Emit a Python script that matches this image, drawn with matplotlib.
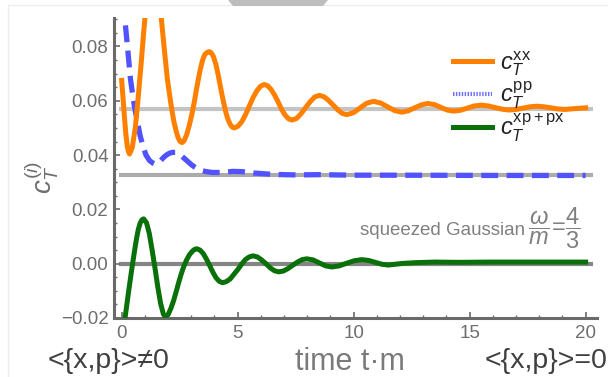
import matplotlib
matplotlib.use("Agg")
import matplotlib.pyplot as plt
from matplotlib.lines import Line2D
from matplotlib.patches import Polygon, Rectangle
from matplotlib.ticker import MultipleLocator, FuncFormatter

plt.rcParams['font.family'] = ['Liberation Sans', 'DejaVu Sans']
plt.rcParams['mathtext.fontset'] = 'custom'
plt.rcParams['mathtext.rm'] = 'Liberation Sans'
plt.rcParams['mathtext.it'] = 'Liberation Sans:italic'

# c_T^xx (orange)
t_xx = [0.00, 0.06, 0.12, 0.18, 0.24, 0.29, 0.34, 0.46, 0.59, 0.71, 0.84, 0.96,
        1.08, 1.21, 1.33, 1.45, 1.58, 1.71, 1.85, 1.97, 2.12, 2.19, 2.26, 2.35,
        2.43, 2.51, 2.60, 2.69, 2.80, 2.91, 3.03, 3.13, 3.22, 3.31, 3.40, 3.49,
        3.58, 3.68, 3.77, 3.86, 3.96, 4.06, 4.15, 4.24, 4.33, 4.42, 4.50, 4.59,
        4.68, 4.77, 4.85, 5.01, 5.18, 5.34, 5.50, 5.66, 5.83, 5.99, 6.15, 6.30,
        6.45, 6.60, 6.75, 6.89, 7.04, 7.19, 7.34, 7.54, 7.73, 7.93, 8.13, 8.32,
        8.52, 8.72, 8.91, 9.11, 9.31, 9.50, 9.70, 9.99, 10.28, 10.56, 10.85,
        11.16, 11.46, 11.77, 12.07, 12.35, 12.63, 12.92, 13.20, 13.48, 13.75,
        14.03, 14.30, 14.60, 14.90, 15.20, 15.50, 15.80, 16.10, 16.40, 16.70,
        17.00, 17.30, 17.60, 17.90, 18.20, 18.50, 18.80, 19.10, 19.50, 20.00]
c_xx = [0.0675, 0.0610, 0.0540, 0.0478, 0.0435, 0.0413, 0.0404, 0.0429, 0.0502,
        0.0610, 0.0737, 0.0864, 0.0972, 0.1045, 0.1070, 0.1045, 0.0980, 0.0903,
        0.0780, 0.0680, 0.0590, 0.0553, 0.0520, 0.0488, 0.0465, 0.0451, 0.0446,
        0.0452, 0.0475, 0.0508, 0.0551, 0.0595, 0.0640, 0.0682, 0.0720, 0.0750,
        0.0770, 0.0778, 0.0781, 0.0777, 0.0762, 0.0735, 0.0700, 0.0660, 0.0620,
        0.0584, 0.0555, 0.0530, 0.0513, 0.0503, 0.0500, 0.0506, 0.0523, 0.0549,
        0.0580, 0.0611, 0.0637, 0.0654, 0.0660, 0.0655, 0.0641, 0.0620, 0.0595,
        0.0569, 0.0548, 0.0534, 0.0529, 0.0535, 0.0552, 0.0575, 0.0597, 0.0614,
        0.0620, 0.0615, 0.0602, 0.0585, 0.0567, 0.0554, 0.0549, 0.0556, 0.0574,
        0.0591, 0.0598, 0.0592, 0.0578, 0.0564, 0.0558, 0.0563, 0.0574, 0.0585,
        0.0590, 0.0586, 0.0576, 0.0566, 0.0562, 0.0565, 0.0573, 0.0581, 0.0584,
        0.0581, 0.0575, 0.0569, 0.0566, 0.0568, 0.0573, 0.0578, 0.0580, 0.0578,
        0.0574, 0.0570, 0.0568, 0.0571, 0.0574]

# c_T^pp (blue dashed)
t_pp = [0.00, 0.08, 0.15, 0.26, 0.38, 0.47, 0.55, 0.67, 0.80, 0.95, 1.05, 1.20,
        1.32, 1.45, 1.55, 1.65, 1.77, 1.88, 2.00, 2.10, 2.20, 2.31, 2.42, 2.52,
        2.63, 2.74, 2.87, 3.00, 3.15, 3.31, 3.45, 3.60, 3.90, 4.30, 4.80, 5.20,
        5.70, 6.50, 7.50, 8.50, 10.0, 12.0, 16.0, 20.0]
c_pp = [0.0970, 0.0930, 0.0890, 0.0790, 0.0680, 0.0625, 0.0580, 0.0527, 0.0470,
        0.0425, 0.0400, 0.0380, 0.0372, 0.0367, 0.0369, 0.0377, 0.0388, 0.0397,
        0.0404, 0.0408, 0.0410, 0.0410, 0.0407, 0.0401, 0.0393, 0.0385, 0.0375,
        0.0365, 0.0356, 0.0348, 0.0343, 0.0340, 0.0336, 0.0336, 0.0340, 0.0339,
        0.0334, 0.0329, 0.0327, 0.0328, 0.0326, 0.0326, 0.0325, 0.0325]

# c_T^xp+px (green)
t_xp = [0.00, 0.08, 0.16, 0.24, 0.32, 0.40, 0.48, 0.56, 0.64, 0.72, 0.80, 0.88,
        0.95, 1.07, 1.19, 1.31, 1.44, 1.56, 1.68, 1.80, 1.88, 2.00, 2.12, 2.24,
        2.35, 2.46, 2.57, 2.67, 2.80, 2.93, 3.06, 3.15, 3.24, 3.38, 3.52, 3.66,
        3.80, 3.93, 4.07, 4.21, 4.35, 4.51, 4.68, 4.84, 5.01, 5.17, 5.33, 5.50,
        5.66, 5.85, 6.03, 6.22, 6.40, 6.59, 6.77, 6.97, 7.17, 7.37, 7.58, 7.78,
        7.98, 8.25, 8.52, 8.79, 9.06, 9.38, 9.71, 10.03, 10.35, 10.64, 10.93,
        11.21, 11.50, 12.10, 12.70, 13.50, 14.50, 16.0, 18.0, 20.0]
c_xp = [-0.0290, -0.0240, -0.0191, -0.0140, -0.0090, -0.0042, 0.0005, 0.0050,
        0.0092, 0.0127, 0.0150, 0.0162, 0.0165, 0.0151, 0.0112, 0.0052, -0.0018,
        -0.0087, -0.0147, -0.0186, -0.0195, -0.0188, -0.0165, -0.0136, -0.0103,
        -0.0069, -0.0037, -0.0012, 0.0014, 0.0034, 0.0047, 0.0053, 0.0055, 0.0050,
        0.0037, 0.0016, -0.0008, -0.0031, -0.0052, -0.0065, -0.0070, -0.0066,
        -0.0056, -0.0039, -0.0021, -0.0002, 0.0015, 0.0025, 0.0029, 0.0025,
        0.0014, 0.0000, -0.0015, -0.0026, -0.0030, -0.0027, -0.0018, -0.0006,
        0.0006, 0.0015, 0.0018, 0.0014, 0.0003, -0.0008, -0.0012, -0.0008, 0.0002,
        0.0011, 0.0015, 0.0012, 0.0005, -0.0002, -0.0005, 0.0001, 0.0004, 0.0006,
        0.0005, 0.0006, 0.0006, 0.0006]

# late-time (thermal) values
eq_values = [0.0571, 0.0326, 0.0]
eq_colors = ['#c4c4c4', '#ababab', '#858585']

ORANGE = '#ff8000'
BLUE = '#5252ff'
GREEN = '#0a700a'
AXGRAY = '#6a6a6a'


def minus_fmt(v, pos):
    return ('%.2f' % v).replace('-', '\u2212')


fig = plt.figure(figsize=(6.08, 3.77), dpi=100)
ax = fig.add_axes([0.1875, 0.1565, 0.7944, 0.7958])

for v, c in zip(eq_values, eq_colors):
    ax.hlines(v, -0.1, 20.3, color=c, lw=3.0, zorder=1)

ax.plot(t_xx, c_xx, color=ORANGE, lw=3.6, solid_joinstyle='round', zorder=3)
ax.plot(t_pp, c_pp, color=BLUE, lw=3.8, dashes=(3.2, 1.6), dash_capstyle='butt', zorder=2)
ax.plot(t_xp, c_xp, color=GREEN, lw=3.6, solid_joinstyle='round', zorder=3)

ax.set_xlim(-0.33, 20.49)
ax.set_ylim(-0.0200, 0.0905)
ax.xaxis.set_major_locator(MultipleLocator(5))
ax.xaxis.set_minor_locator(MultipleLocator(1))
ax.yaxis.set_major_locator(MultipleLocator(0.02))
ax.yaxis.set_minor_locator(MultipleLocator(0.005))
ax.yaxis.set_major_formatter(FuncFormatter(minus_fmt))

for side in ['top', 'right']:
    ax.spines[side].set_visible(False)
for side in ['left', 'bottom']:
    ax.spines[side].set_color(AXGRAY)
    ax.spines[side].set_linewidth(2.2)
ax.tick_params(which='both', direction='in', color=AXGRAY, labelcolor='#6e6e6e',
               labelsize=13.5)
ax.tick_params(which='major', length=4, width=1.2)
ax.tick_params(which='minor', length=2, width=1.0)
ax.tick_params(axis='y', pad=4)
ax.tick_params(axis='x', pad=5)

ax.set_ylabel(r'$c_T^{(i)}$', fontsize=20, color='#6e6e6e')
ax.yaxis.set_label_coords(-0.11, 0.47)

handles = [
    Line2D([], [], color=ORANGE, lw=3.6),
    Line2D([], [], color='#7070ff', lw=3.0, dashes=(0.35, 0.35)),
    Line2D([], [], color=GREEN, lw=3.6),
]
labels = [r'$c_T^{\mathrm{xx}}$', r'$c_T^{\mathrm{pp}}$', r'$c_T^{\mathrm{xp+px}}$']
leg = ax.legend(handles, labels, loc='upper left', bbox_to_anchor=(0.702, 0.895),
                frameon=False, fontsize=17, handlelength=1.65, handletextpad=0.35,
                labelspacing=0.05, borderpad=0, borderaxespad=0)
for txt in leg.get_texts():
    txt.set_color('#222222')

ax.text(0.852, 0.276, 'squeezed Gaussian', transform=ax.transAxes, ha='right',
        va='baseline', fontsize=13.5, color='#808080')
ax.text(0.858, 0.30, r'$\dfrac{\omega}{m}\!=\!\dfrac{4}{3}$', transform=ax.transAxes,
        ha='left', va='center', fontsize=17, color='#808080')

fig.text(48 / 608, 1 - 368 / 377, '<{x,p}>\u22600', fontsize=20.5, color='#404040',
         ha='left', va='baseline')
fig.text(607 / 608, 1 - 368 / 377, '<{x,p}>=0', fontsize=20.5, color='#404040',
         ha='right', va='baseline')
fig.text(350 / 608, 1 - 370 / 377, 'time t\u00b7m', fontsize=22, color='#7a7a7a',
         ha='center', va='baseline')

# panel frame and tab at the top
fig.patches.append(Rectangle((8 / 608, -0.05), 1.1, 1 - 5 / 377 + 0.05,
                             transform=fig.transFigure, fill=False,
                             edgecolor='#ededed', lw=1.0))
fig.patches.append(Polygon([(228 / 608, 1.0), (328 / 608, 1.0), (323 / 608, 1 - 6 / 377),
                            (233 / 608, 1 - 6 / 377)], closed=True,
                           transform=fig.transFigure, facecolor='#bdbdbd',
                           edgecolor='none'))

fig.savefig('out.png', dpi=100)
